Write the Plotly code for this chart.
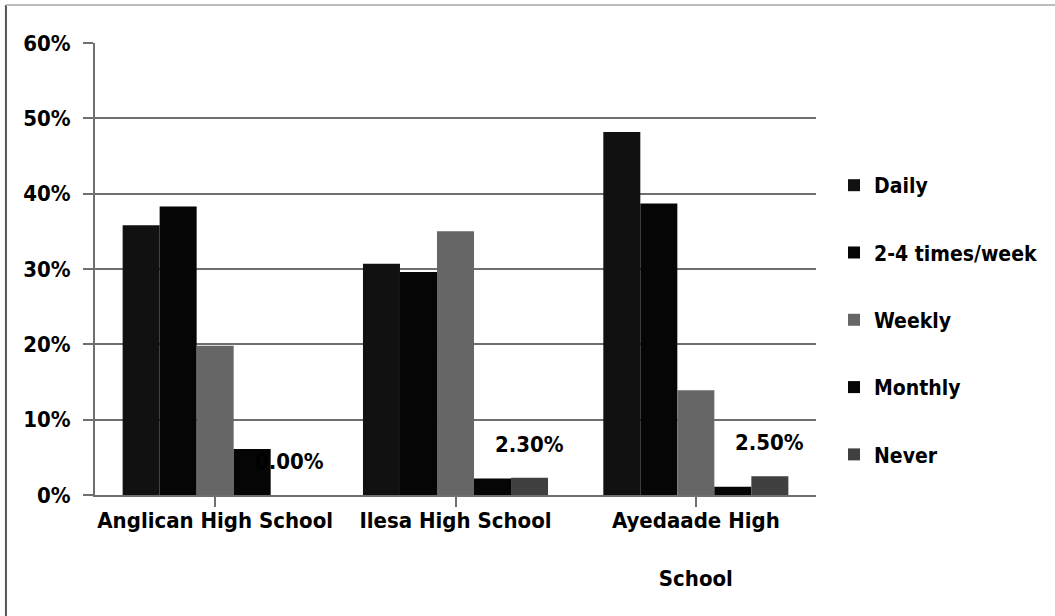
import plotly.graph_objects as go

# Survey results: how often students engage, by school
schools = ["Anglican High School", "Ilesa High School", "Ayedaade High School"]
school_ticktext = ["Anglican High School", "Ilesa High School", "Ayedaade High<br><br>School"]
frequencies = ["Daily", "2-4 times/week", "Weekly", "Monthly", "Never"]

daily = [35.8, 30.7, 48.2]
two_four_week = [38.3, 29.6, 38.7]
weekly = [19.8, 35.0, 13.9]
monthly = [6.1, 2.2, 1.1]
never = [0.0, 2.3, 2.5]

y_ticks = [0, 10, 20, 30, 40, 50, 60]
y_ticktext = [f"{v}%" for v in y_ticks]

series = [daily, two_four_week, weekly, monthly, never]
colors = ["#111111", "#050505", "#666666", "#050505", "#404040"]

FONT = "DejaVu Sans Condensed, Liberation Sans Narrow, sans-serif"
FSIZE = 22
GRID = "#6f6f6f"
BARGAP = 0.23

fig = go.Figure()
for i, (name, vals, col) in enumerate(zip(frequencies, series, colors)):
    fig.add_trace(go.Bar(
        name=name,
        x=list(range(len(schools))),
        y=vals,
        marker=dict(color=col, line=dict(width=0)),
        legendgroup=name,
        hoverinfo="skip",
    ))

# value labels for the "Never" series, centred over its bar
n = len(frequencies)
group_w = 1 - BARGAP
never_offset = -group_w / 2 + group_w / n * (n - 0.5)
for k, v in enumerate(never):
    fig.add_annotation(
        x=k + never_offset, y=v, xref="x", yref="y",
        text=f"{v:.2f}%", showarrow=False,
        yanchor="bottom", yshift=19,
        font=dict(family=FONT, size=FSIZE, color="#000000", weight="bold"),
    )

# outer chart border
fig.add_shape(type="line", xref="paper", yref="paper",
              x0=-0.1235, x1=-0.1235, y0=1.084, y1=-0.3,
              line=dict(color="#555555", width=2))
fig.add_shape(type="line", xref="paper", yref="paper",
              x0=-0.1235, x1=1.35, y0=1.084, y1=1.084,
              line=dict(color="#bbbbbb", width=2))

fig.update_layout(
    width=1055, height=616,
    margin=dict(l=95, r=239, t=43, b=121),
    paper_bgcolor="white", plot_bgcolor="white",
    barmode="group", bargap=BARGAP, bargroupgap=0,
    font=dict(family=FONT, size=FSIZE, color="#000000", weight="bold"),
    legend=dict(
        x=1.025, y=0.73, xanchor="left", yanchor="top",
        font=dict(family=FONT, size=21, color="#000000", weight="bold"),
        tracegroupgap=37, itemwidth=30,
        bgcolor="rgba(0,0,0,0)",
    ),
    xaxis=dict(
        tickmode="array",
        tickvals=list(range(len(schools))),
        ticktext=school_ticktext,
        range=[-0.5, len(schools) - 0.5],
        showgrid=False, zeroline=False,
        showline=True, linecolor=GRID, linewidth=2,
        ticks="outside", ticklen=10, tickwidth=2, tickcolor=GRID,
        tickson="boundaries",
        ticklabelstandoff=-5,
        tickfont=dict(family=FONT, size=FSIZE, color="#000000", weight="bold"),
    ),
    yaxis=dict(
        range=[0, 60],
        tickmode="array", tickvals=y_ticks, ticktext=y_ticktext,
        showgrid=True, gridcolor=GRID, gridwidth=2,
        zeroline=False,
        showline=True, linecolor=GRID, linewidth=2,
        ticks="outside", ticklen=10, tickwidth=2, tickcolor=GRID,
        ticklabelstandoff=8,
        tickfont=dict(family=FONT, size=FSIZE, color="#000000", weight="bold"),
    ),
)

fig.write_html("out.html")
